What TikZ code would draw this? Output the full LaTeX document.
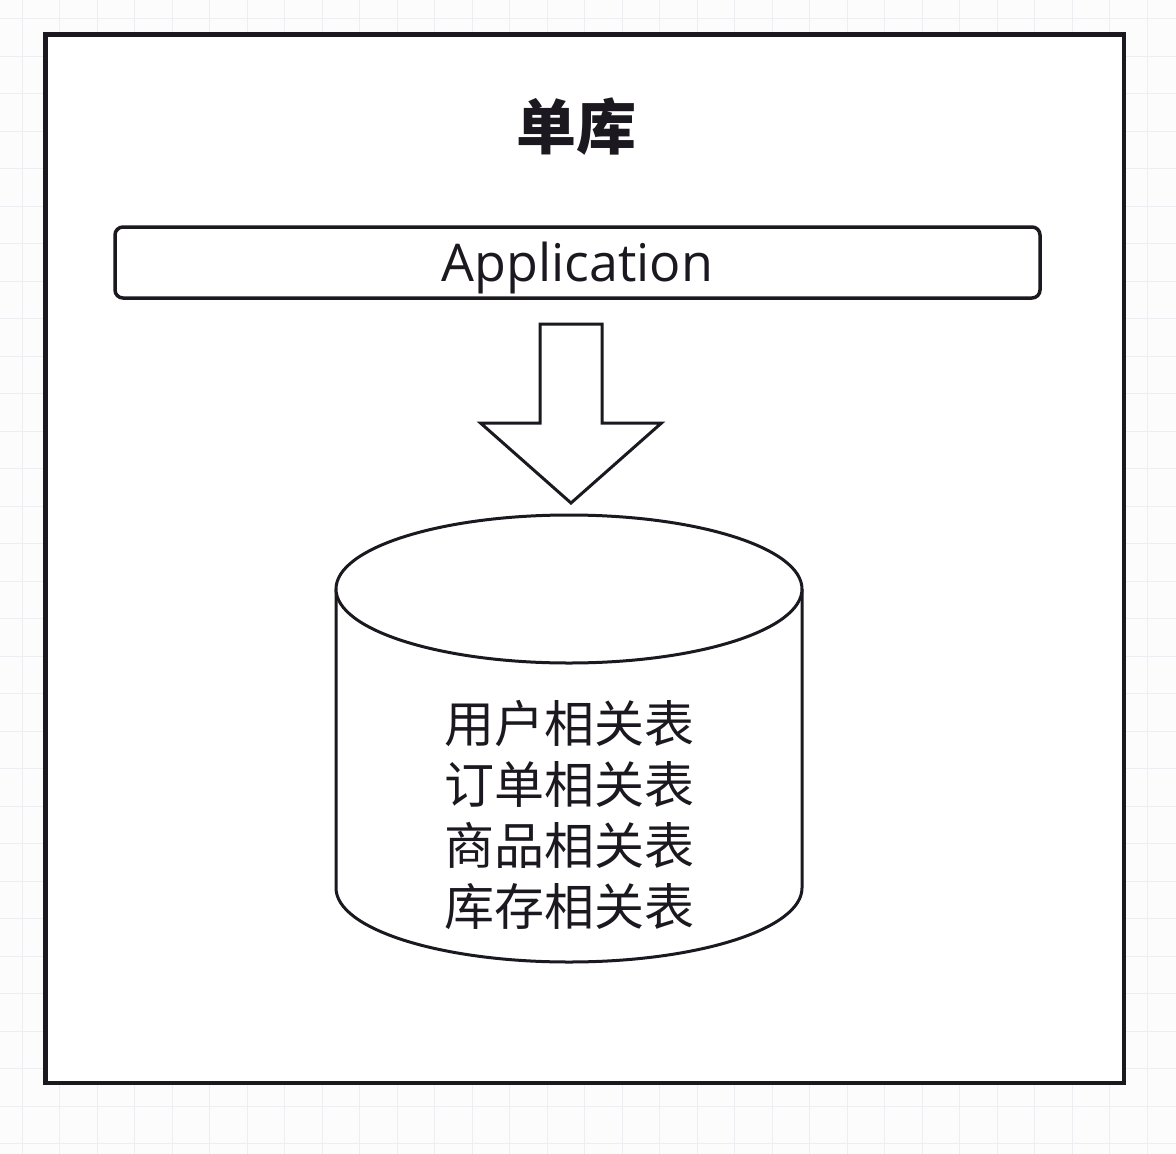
\documentclass[tikz,border=0pt]{standalone}
\usepackage{fontspec}
\setmainfont{Open Sans}
\newfontfamily\cjk{Noto Sans CJK SC}
\usepackage{tikz}
\usetikzlibrary{positioning,calc}
\definecolor{ink}{RGB}{28,24,32}
\definecolor{gridc}{RGB}{236,238,242}
\definecolor{paper}{RGB}{252,252,253}

\begin{document}
\begin{tikzpicture}[x=1pt,y=-1pt,
      gridln/.style={draw=gridc,line width=1pt},
      frame/.style={draw=ink,line width=4.5pt,fill=white,inner sep=0pt},
      heading/.style={text=ink,font=\cjk\bfseries\fontsize{60}{70}\selectfont},
      appbox/.style={draw=ink,line width=3.5pt,rounded corners=8pt,text=ink,
                     minimum width=925pt,minimum height=71pt,inner sep=0pt,text depth=2pt,
                     font=\fontsize{52}{60}\selectfont},
      blk/.style={draw=ink,line width=3pt,fill=white,line join=miter},
      dbline/.style={draw=ink,line width=3pt,fill=white},
      tables/.style={text=ink,align=center,inner sep=0pt,
                     font=\cjk\fontsize{50}{61}\selectfont}]
      \useasboundingbox[fill=paper] (0,0) rectangle (1176,1154);
      % faint grid behind the frame
      \foreach \i in {0,...,31} \draw[gridln] ({22+37.5*\i},0) -- ++(0,1154);
      \foreach \j in {0,...,30} \draw[gridln] (0,{18.5+37.5*\j}) -- ++(1176,0);
      \node[frame,minimum width=1078.5pt,minimum height=1048.5pt] (outer) at (584.75,558.75) {};
      \node[heading] (title) at (576,127) {单库};
      \node[appbox] (app) at (577.5,262.5) {Application};
      % block arrow
      \draw[blk] (540,324) -- (602,324) -- (602,423) -- (661.5,423) -- (571,503)
            -- (480.5,423) -- (540,423) -- cycle;
      % database cylinder
      \coordinate (db) at (569,589);
      \draw[dbline] (336,589) -- (336,888) arc[start angle=180,end angle=0,x radius=233,y radius=74]
            -- (802,589);
      \draw[dbline] (db) ellipse[x radius=233,y radius=74];
      \node[tables] (tbl) at (569,815) {用户相关表\\订单相关表\\商品相关表\\库存相关表};
    \end{tikzpicture}
\end{document}
